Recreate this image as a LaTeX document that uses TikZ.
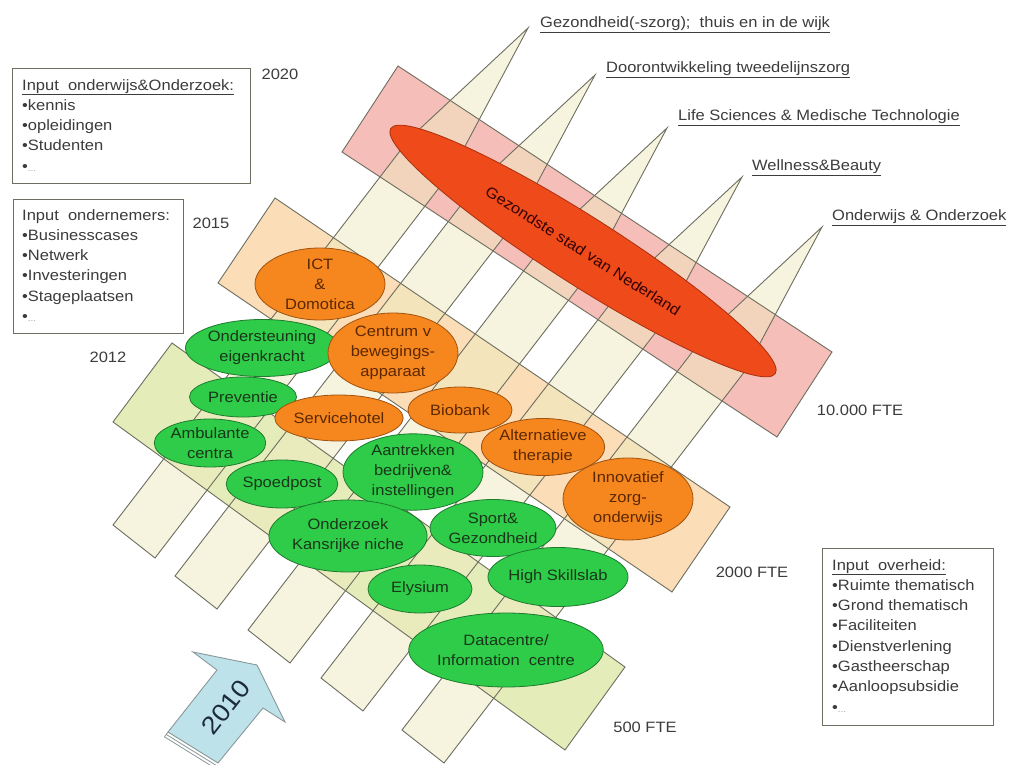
\documentclass[tikz,border=0pt]{standalone}
\usepackage{fontspec}
\setmainfont{Liberation Sans}[FakeStretch=1.1]
\usetikzlibrary{shapes.geometric}
\definecolor{pinkband}{HTML}{F6BEB8}
\definecolor{peachband}{HTML}{FBDDB8}
\definecolor{greenband}{HTML}{E4EDBA}
\definecolor{stripcol}{HTML}{EEEBBE}
\definecolor{linegray}{HTML}{6E6E60}
\definecolor{txtgray}{HTML}{3C3C3C}
\definecolor{gfill}{HTML}{2ECC48}
\definecolor{gline}{HTML}{1E7A2E}
\definecolor{gtext}{HTML}{1A361A}
\definecolor{ofill}{HTML}{F6861E}
\definecolor{oline}{HTML}{A0520F}
\definecolor{otext}{HTML}{5C2800}
\definecolor{rfill}{HTML}{EE4A1A}
\definecolor{rline}{HTML}{A8300E}
\definecolor{afill}{HTML}{BEE2EA}
\definecolor{aline}{HTML}{8A9898}
\definecolor{atext}{HTML}{1C2C3C}
\begin{document}
\begin{tikzpicture}[x=1pt,y=-1pt,
  bandfill/.style={fill=#1, draw=none},
  bandline/.style={draw=linegray, line width=0.9pt},
  strip/.style={fill=stripcol, fill opacity=0.5, draw=linegray, line width=0.9pt, line join=miter},
  ellbase/.style={ellipse, inner sep=0pt, align=center, line width=0.8pt, font=\fontsize{15}{20}\selectfont},
  gell/.style={ellbase, draw=gline, fill=gfill, text=gtext},
  oell/.style={ellbase, draw=oline, fill=ofill, text=otext},
  lbl/.style={text=txtgray, inner sep=0pt, font=\fontsize{15}{20}\selectfont},
  toplbl/.style={lbl, anchor=west},
  boxst/.style={draw=linegray, line width=1pt, fill=white, anchor=north west, inner sep=0pt},
  boxtxt/.style={lbl, anchor=north west, align=left, font=\fontsize{15}{20.3}\selectfont},
  arrowst/.style={fill=afill, draw=aline, line width=0.9pt, line join=miter}
]
\useasboundingbox (0,0) rectangle (1013,765);
\fill[white] (0,0) rectangle (1013,765);

% year bands (fills)
\path[bandfill=pinkband]  (398,66) -- (832,352) -- (777,437) -- (342,152) -- cycle;
\path[bandfill=peachband] (275,198) -- (730,507) -- (672,592) -- (218,283) -- cycle;
\path[bandfill=greenband] (172,343) -- (625,667) -- (565,750) -- (113,422) -- cycle;

% theme strips
\draw[strip] (113,525) -- (409.6,138.4) -- (528,28) -- (451.6,171.4) -- (155,558) -- cycle;
\draw[strip] (175,576) -- (476.3,185.2) -- (595,75) -- (518.3,218.2) -- (217,609) -- cycle;
\draw[strip] (248,630) -- (548.6,238.4) -- (667,128) -- (590.6,271.4) -- (290,663) -- cycle;
\draw[strip] (321,678) -- (623.2,287.1) -- (742,177) -- (665.2,320.1) -- (363,711) -- cycle;
\draw[strip] (402,730) -- (703.5,337.4) -- (822,227) -- (745.5,370.4) -- (444,763) -- cycle;

% band outlines
\draw[bandline] (398,66) -- (832,352) -- (777,437) -- (342,152) -- cycle;
\draw[bandline] (275,198) -- (730,507) -- (672,592) -- (218,283) -- cycle;
\draw[bandline] (172,343) -- (625,667) -- (565,750) -- (113,422) -- cycle;

% big ellipse
\node[ellbase, draw=rline, fill=rfill, text=black!80!red, rotate=-32.5,
      minimum width=456pt, minimum height=68pt] (gezondste) at (583,251)
      {Gezondste stad van Nederland};

% themes
\node[oell, minimum width=130pt, minimum height=72pt] (ict) at (320,284) {ICT\\\&\\Domotica};
\node[gell, minimum width=129pt, minimum height=57pt] (onderst) at (262,348) {Ondersteuning\\eigenkracht};
\node[oell, minimum width=130pt, minimum height=80pt] (centrum) at (393,353) {Centrum v\\bewegings-\\apparaat};
\node[gell, minimum width=107pt, minimum height=40pt] (preventie) at (243,397) {Preventie};
\node[oell, minimum width=102pt, minimum height=46pt] (service) at (339,418) {Servicehotel};
\node[oell, minimum width=104pt, minimum height=46pt] (biobank) at (460,410) {Biobank};
\node[gell, minimum width=105pt, minimum height=48pt] (ambulant) at (210,443) {Ambulante\\centra};
\node[gell, minimum width=140pt, minimum height=74pt] (aantrek) at (413,472) {Aantrekken\\bedrijven\&\\instellingen};
\node[oell, minimum width=107pt, minimum height=57pt] (altern) at (543,447) {Alternatieve\\therapie};
\node[gell, minimum width=104pt, minimum height=48pt] (spoed) at (282,484) {Spoedpost};
\node[oell, minimum width=130pt, minimum height=82pt] (innov) at (628,499) {Innovatief\\zorg-\\onderwijs};
\node[gell, minimum width=140pt, minimum height=72pt] (onderz) at (348,536) {Onderzoek\\Kansrijke niche};
\node[gell, minimum width=120pt, minimum height=57pt] (sport) at (493,528) {Sport\&\\Gezondheid};
\node[gell, minimum width=107pt, minimum height=59pt] (skills) at (558,577) {High Skillslab};
\node[gell, minimum width=104pt, minimum height=48pt] (elysium) at (420,589) {Elysium};
\node[gell, minimum width=163pt, minimum height=74pt] (datac) at (506,650) {Datacentre/\\Information\ \ centre};

% labels
\node[lbl] (y2020) at (280,74) {2020};
\node[lbl] (y2015) at (211,223) {2015};
\node[lbl] (y2012) at (108,357) {2012};
\node[lbl] (f10000) at (860,410) {10.000 FTE};
\node[lbl] (f2000) at (752,572) {2000 FTE};
\node[lbl] (f500) at (645,727) {500 FTE};

\node[toplbl] (t1) at (540,25) {\underline{Gezondheid(-szorg);\ \ thuis en in de wijk}};
\node[toplbl] (t2) at (606,70) {\underline{Doorontwikkeling tweedelijnszorg}};
\node[toplbl] (t3) at (678,118) {\underline{Life Sciences \& Medische Technologie}};
\node[toplbl] (t4) at (752,168) {\underline{Wellness\&Beauty}};
\node[toplbl] (t5) at (832,218) {\underline{Onderwijs \& Onderzoek}};

% input boxes
\node[boxst, minimum width=238pt, minimum height=115pt] (box1) at (12,68) {};
\node[boxtxt] (box1t) at (22,79) {\underline{Input\ \ onderwijs\&Onderzoek:}\\•kennis\\•opleidingen\\•Studenten\\•{\color{gray!70}\fontsize{9}{9}\selectfont ...}};
\node[boxst, minimum width=170pt, minimum height=134pt] (box2) at (13,199) {};
\node[boxtxt] (box2t) at (22,209) {Input\ \ ondernemers:\\•Businesscases\\•Netwerk\\•Investeringen\\•Stageplaatsen\\•{\color{gray!70}\fontsize{9}{9}\selectfont ...}};
\node[boxst, minimum width=171pt, minimum height=177pt] (box3) at (822,548) {};
\node[boxtxt] (box3t) at (832,559) {\underline{Input\ \ overheid:}\\•Ruimte thematisch\\•Grond thematisch\\•Faciliteiten\\•Dienstverlening\\•Gastheerschap\\•Aanloopsubsidie\\•{\color{gray!70}\fontsize{9}{9}\selectfont ...}};

% 2010 arrow
\draw[aline, line width=0.8pt] (164.4,736.8) -- (214.4,767.8);
\draw[aline, line width=0.8pt] (166.2,734.4) -- (216.2,765.4);
\draw[aline, line width=0.8pt] (168,732) -- (164.4,736.8);
\draw[arrowst] (168,732) -- (217,670) -- (193,652) -- (257,665) -- (285,722) -- (263,708) -- (218,763) -- cycle;
\node[rotate=52, text=atext, inner sep=0pt, font=\fontsize{25}{25}\selectfont] (y2010) at (226,707) {2010};
\end{tikzpicture}
\end{document}
